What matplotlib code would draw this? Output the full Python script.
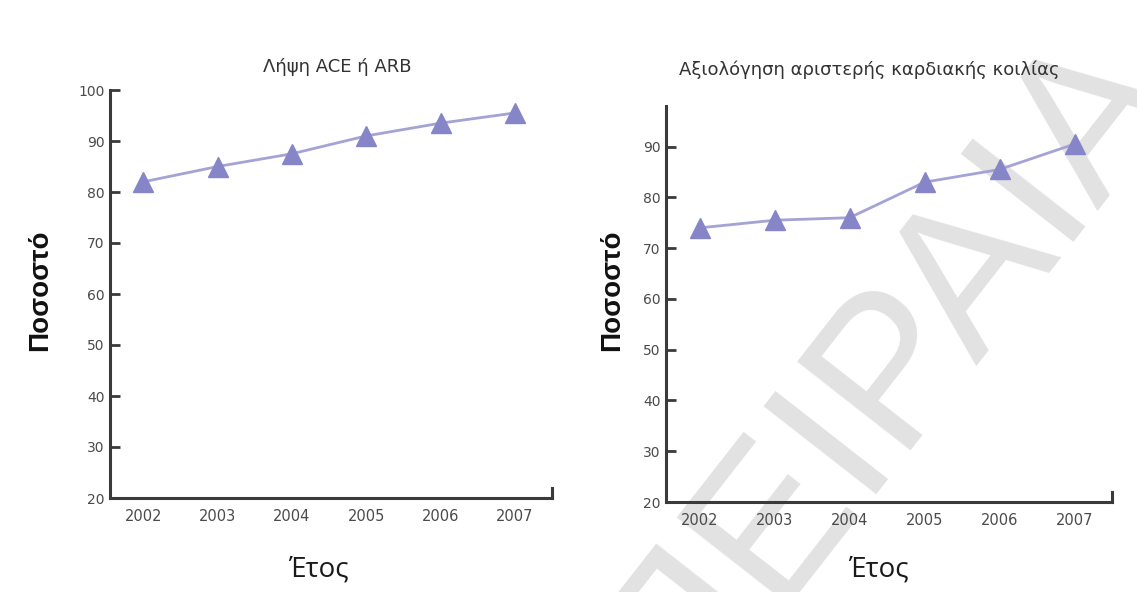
import matplotlib.pyplot as plt

plt.rcParams['font.family'] = ['DejaVu Sans']

years = [2002, 2003, 2004, 2005, 2006, 2007]
ace_arb = [82, 85, 87.5, 91, 93.5, 95.5]
lv_eval = [74, 75.5, 76, 83, 85.5, 90.5]

left_title = 'Λήψη ACE ή ARB'
right_title = 'Αξιολόγηση αριστερής καρδιακής κοιλίας'
ylabel = 'Ποσοστό'
xlabel = 'Έτος'

line_c = '#a3a3d6'
mark_c = '#8585c8'
axis_c = '#3a3a3a'

fig = plt.figure(figsize=(11.37, 5.92), dpi=100)

# watermark behind everything
fig.text(0.78, 0.372, 'ΠΕΙΡΑΙΑ', fontsize=150, color='#e2e2e2',
         family='Liberation Sans', rotation=52, ha='center', va='center',
         zorder=-1)


def panel(rect, values, ylim, yticks, title, title_xy, xlabel_xy, ylabel_xy):
    ax = fig.add_axes(rect)
    ax.patch.set_alpha(0)
    ax.plot(years, values, color=line_c, lw=2, marker='^', ms=14,
            mfc=mark_c, mec=mark_c, clip_on=False)
    ax.set_ylim(*ylim)
    ax.set_xlim(years[0] - 0.45, years[-1] + 0.5)
    ax.set_yticks(yticks)
    ax.set_xticks(years)
    for s in ['top', 'right']:
        ax.spines[s].set_visible(False)
    for s in ['left', 'bottom']:
        ax.spines[s].set_color(axis_c)
        ax.spines[s].set_linewidth(2.2)
    ax.tick_params(axis='y', direction='in', length=7, width=2, color=axis_c,
                   labelsize=10, labelcolor='#4a4a4a', pad=4)
    ax.tick_params(axis='x', length=0, labelsize=10.5, labelcolor='#4a4a4a', pad=8)
    # small end mark at the right of the x axis
    ax.axvline(ax.get_xlim()[1], ymin=0, ymax=0.025, color=axis_c, lw=2.2,
               clip_on=False)
    fig.text(*title_xy, title, ha='center', va='center', fontsize=13,
             color='#333333')
    fig.text(*xlabel_xy, xlabel, ha='center', va='center', fontsize=20,
             color='#1a1a1a', family='Open Sans')
    fig.text(*ylabel_xy, ylabel, ha='center', va='center', fontsize=20,
             fontweight='bold', rotation=90, color='#111111',
             family='Liberation Sans')
    return ax


W, H = 1137, 592
panel([110 / W, 1 - 498 / H, 442 / W, 408 / H], ace_arb, (20, 100),
      range(20, 101, 10), left_title,
      (337 / W, 1 - 67 / H), (318 / W, 1 - 570 / H), (40 / W, 1 - 290 / H))
panel([666 / W, 1 - 502 / H, 446 / W, 396 / H], lv_eval, (20, 98),
      range(20, 91, 10), right_title,
      (869 / W, 1 - 70 / H), (878 / W, 1 - 570 / H), (612 / W, 1 - 290 / H))

fig.savefig('out.png', dpi=100)
